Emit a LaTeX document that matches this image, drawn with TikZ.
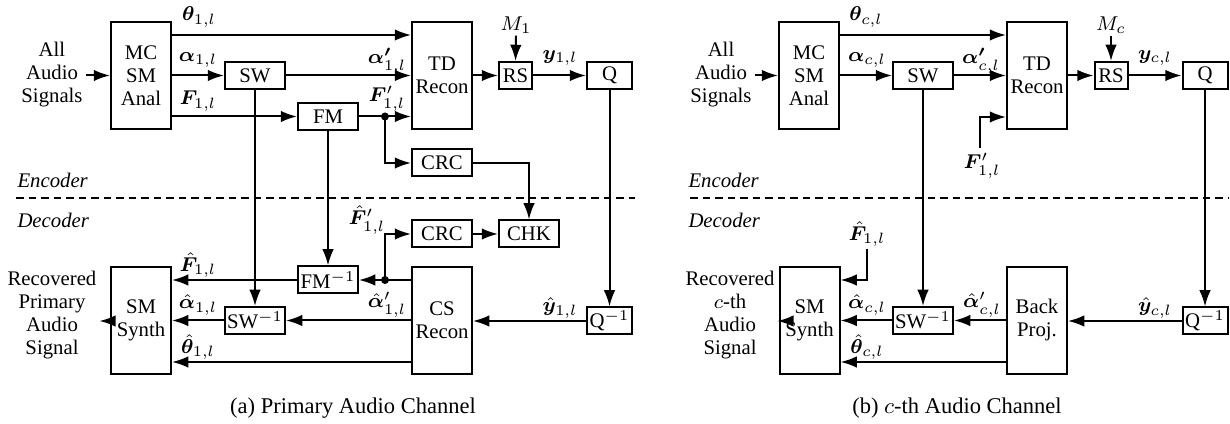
\documentclass[tikz,border=0pt]{standalone}
\usepackage{fontspec}
\setmainfont{Liberation Serif}
\usepackage{amsmath}
\usepackage{bm}
\usetikzlibrary{arrows.meta}
\begin{document}
\begin{tikzpicture}[x=0.4pt,y=-0.4pt,
  txt/.style={font=\fontsize{8.3}{9.2}\selectfont, inner sep=0pt},
  lab/.style={font=\fontsize{8.3}{9.2}\selectfont, inner sep=0pt},
  mlines/.style={txt, align=center},
  box/.style={draw, line width=0.8pt, inner sep=0pt, align=center, font=\fontsize{8.3}{9.2}\selectfont},
  tallbox/.style={box, minimum width=24pt, minimum height=42.8pt},
  smallbox/.style={box, minimum width=24pt, minimum height=10.8pt},
  rsbox/.style={box, minimum width=13.2pt, minimum height=10.8pt},
  qbox/.style={box, minimum width=18pt, minimum height=10.8pt},
  arr/.style={-{Latex[length=6.5pt,width=4.6pt]}, line width=0.8pt},
  sep/.style={dashed, dash pattern=on 3pt off 2pt, line width=0.6pt},
  side/.style={font=\fontsize{8.3}{9.2}\selectfont\itshape, inner sep=0pt, anchor=west},
  capt/.style={font=\fontsize{9}{10}\selectfont, inner sep=0pt}
]
\useasboundingbox (0,0) rectangle (1230,424);

% ================= (a) Primary audio channel =================
\node[mlines] (inL) at (52,75) {All\\Audio\\Signals};
\node[tallbox] (anal) at (141,75.5) {MC\\SM\\Anal};
\node[smallbox] (sw) at (255,75.5) {SW};
\node[smallbox] (fm) at (328,116.5) {FM};
\node[tallbox] (td) at (442,75.5) {TD\\Recon};
\node[smallbox] (crcE) at (442,163) {CRC};
\node[rsbox] (rs) at (515.5,75.5) {RS};
\node[qbox] (q) at (609.5,75.5) {Q};
\node[lab] (m1) at (516,25) {$M_1$};

\node[smallbox] (crcD) at (442,234) {CRC};
\node[smallbox] (chk) at (529,234) {CHK};
\node[smallbox] (fmi) at (328,280) {FM$^{-1}$};
\node[smallbox] (swi) at (255,320.5) {SW$^{-1}$};
\node[tallbox] (synth) at (141,320.5) {SM\\Synth};
\node[tallbox] (cs) at (442,320.5) {CS\\Recon};
\node[qbox] (qi) at (609.5,321) {Q$^{-1}$};
\node[mlines] (outL) at (52,315) {Recovered\\Primary\\Audio\\Signal};

\coordinate (dotF) at (385,116.5);
\coordinate (dotD) at (385,280);

% labels (a)
\node[lab] (lth) at (199,17) {$\bm{\theta}_{1,l}$};
\node[lab] (lal) at (198,60) {$\bm{\alpha}_{1,l}$};
\node[lab] (lF) at (198,101) {$\bm{F}_{1,l}$};
\node[lab] (lalp) at (387,61) {$\bm{\alpha'}_{1,l}$};
\node[lab] (lFp) at (387,99) {$\bm{F}'_{1,l}$};
\node[lab] (ly) at (560,58) {$\bm{y}_{1,l}$};
\node[lab] (lFh) at (198,265) {$\hat{\bm{F}}_{1,l}$};
\node[lab] (lalh) at (198,305) {$\hat{\bm{\alpha}}_{1,l}$};
\node[lab] (lthh) at (198,347) {$\hat{\bm{\theta}}_{1,l}$};
\node[lab] (lFhp) at (367,220) {$\hat{\bm{F}}'_{1,l}$};
\node[lab] (lalhp) at (387,305) {$\hat{\bm{\alpha}}'_{1,l}$};
\node[lab] (lyh) at (560,308) {$\hat{\bm{y}}_{1,l}$};

% connectors (a) encoder
\draw[arr] ([xshift=1pt]inL.east |- anal.west) -- (anal.west);
\draw[arr] (anal.east |- 0,35) -- (td.west |- 0,35);
\draw[arr] (anal.east |- sw.west) -- (sw.west);
\draw[arr] (anal.east |- fm.west) -- (fm.west);
\draw[arr] (sw.east) -- (td.west |- sw.east);
\draw[arr] (fm.east) -- (td.west |- fm.east);
\fill (dotF) circle (1.6pt);
\draw[arr] (dotF) |- (crcE.west);
\draw[arr] (crcE.east) -| (chk.north);
\draw[arr] (td.east |- rs.west) -- (rs.west);
\draw[arr] (m1.south) ++(0,2) -- (rs.north);
\draw[arr] (rs.east) -- (q.west);
\draw[arr] (q.south) -- (qi.north);
\draw[arr] (sw.south) -- (swi.north);
\draw[arr] (fm.south) -- (fmi.north);
% decoder
\draw[arr] (cs.west |- fmi.east) -- (fmi.east);
\fill (dotD) circle (1.6pt);
\draw[arr] (dotD) |- (crcD.west);
\draw[arr] (crcD.east) -- (chk.west);
\draw[arr] (fmi.west) -- (synth.east |- fmi.west);
\draw[arr] (cs.west |- swi.east) -- (swi.east);
\draw[arr] (swi.west) -- (synth.east |- swi.west);
\draw[arr] (cs.west |- 0,362) -- (synth.east |- 0,362);
\draw[arr] (qi.west) -- (cs.east |- qi.west);
\draw[arr] (synth.west |- 0,321) -- ([xshift=1pt]outL.east |- 0,321);

\draw[sep] (16,198) -- (635,198);
\node[side] (encL) at (17,180) {Encoder};
\node[side] (decL) at (17,220) {Decoder};
\node[capt] (capA) at (353,408) {(a) Primary Audio Channel};

% ================= (b) c-th audio channel =================
\node[mlines] (inR) at (721,75) {All\\Audio\\Signals};
\node[tallbox] (anal2) at (809,75.5) {MC\\SM\\Anal};
\node[smallbox] (sw2) at (923,75.5) {SW};
\node[tallbox] (td2) at (1037,75.5) {TD\\Recon};
\node[rsbox] (rs2) at (1111,75.5) {RS};
\node[qbox] (q2) at (1205,75.5) {Q};
\node[lab] (mc) at (1111,25) {$M_c$};

\node[tallbox] (synth2) at (809.5,320.5) {SM\\Synth};
\node[smallbox] (swi2) at (923,320.5) {SW$^{-1}$};
\node[tallbox] (bp) at (1037,320.5) {Back\\Proj.};
\node[qbox] (qi2) at (1205,321) {Q$^{-1}$};
\node[mlines] (outR) at (730,315) {Recovered\\$c$-th\\Audio\\Signal};

\coordinate (fin) at (980,148);
\coordinate (fhin) at (867,249);

% labels (b)
\node[lab] (lth2) at (866,17) {$\bm{\theta}_{c,l}$};
\node[lab] (lal2) at (867,60) {$\bm{\alpha}_{c,l}$};
\node[lab] (lalp2) at (981,61) {$\bm{\alpha'}_{c,l}$};
\node[lab] (lFp2) at (982,166) {$\bm{F}'_{1,l}$};
\node[lab] (ly2) at (1155,58) {$\bm{y}_{c,l}$};
\node[lab] (lFh2) at (867,234) {$\hat{\bm{F}}_{1,l}$};
\node[lab] (lalh2) at (867,305) {$\hat{\bm{\alpha}}_{c,l}$};
\node[lab] (lthh2) at (867,347) {$\hat{\bm{\theta}}_{c,l}$};
\node[lab] (lalhp2) at (982,305) {$\hat{\bm{\alpha}}'_{c,l}$};
\node[lab] (lyh2) at (1155,308) {$\hat{\bm{y}}_{c,l}$};

% connectors (b)
\draw[arr] ([xshift=1pt]inR.east |- anal2.west) -- (anal2.west);
\draw[arr] (anal2.east |- 0,35) -- (td2.west |- 0,35);
\draw[arr] (anal2.east |- sw2.west) -- (sw2.west);
\draw[arr] (sw2.east) -- (td2.west |- sw2.east);
\draw[arr] (fin) |- (td2.west |- 0,117);
\draw[arr] (td2.east |- rs2.west) -- (rs2.west);
\draw[arr] (mc.south) ++(0,2) -- (rs2.north);
\draw[arr] (rs2.east) -- (q2.west);
\draw[arr] (q2.south) -- (qi2.north);
\draw[arr] (sw2.south) -- (swi2.north);
\draw[arr] (fhin) |- (synth2.east |- 0,280);
\draw[arr] (bp.west |- swi2.east) -- (swi2.east);
\draw[arr] (swi2.west) -- (synth2.east |- swi2.west);
\draw[arr] (bp.west |- 0,362) -- (synth2.east |- 0,362);
\draw[arr] (qi2.west) -- (bp.east |- qi2.west);
\draw[arr] (synth2.west |- 0,321) -- ([xshift=1pt]outR.east |- 0,321);

\draw[sep] (690,198) -- (1228,198);
\node[side] (encR) at (688,180) {Encoder};
\node[side] (decR) at (688,220) {Decoder};
\node[capt] (capB) at (957,408) {(b) $c$-th Audio Channel};
\end{tikzpicture}
\end{document}
